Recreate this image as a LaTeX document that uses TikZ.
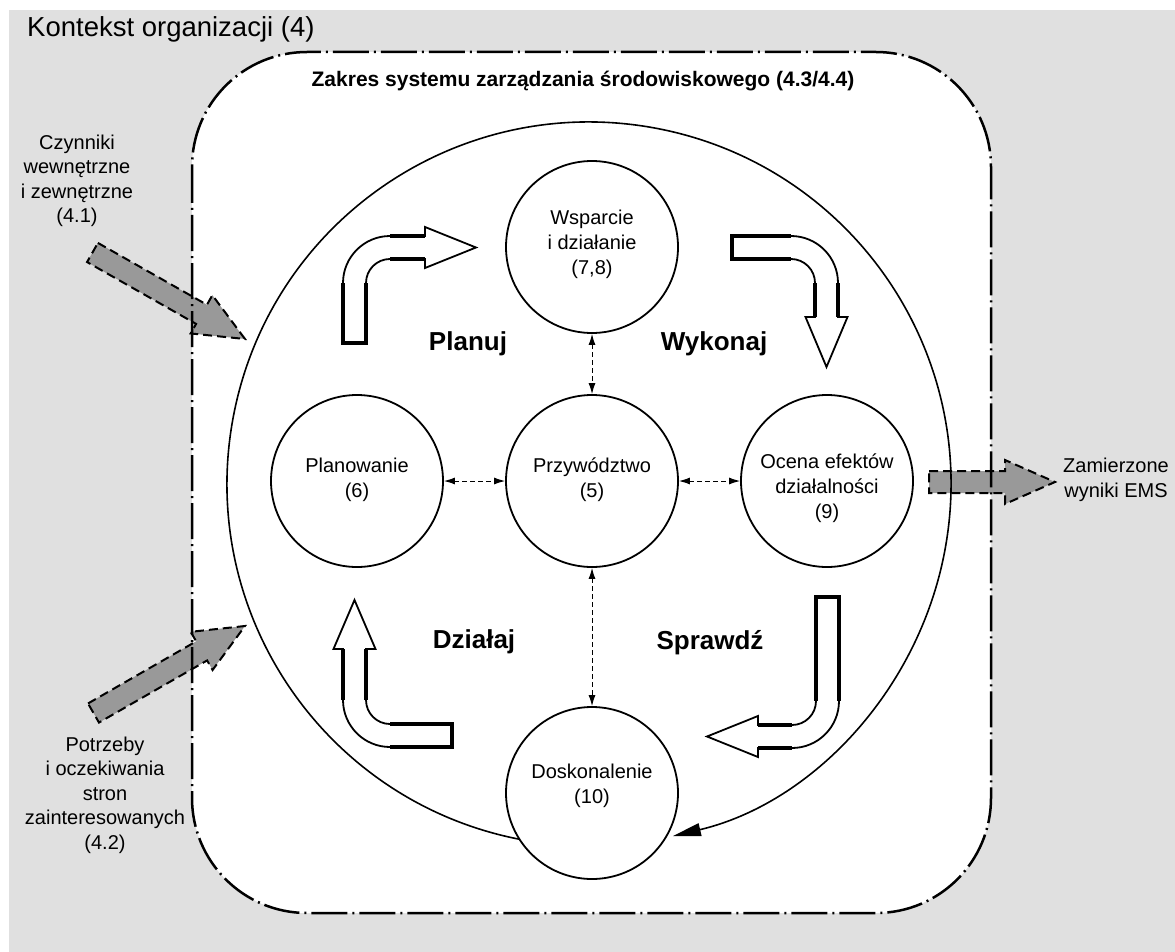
\documentclass[tikz,border=0pt]{standalone}
\usepackage{fontspec}
\setmainfont{Liberation Sans}
\usetikzlibrary{arrows.meta,calc}
\definecolor{bggray}{RGB}{224,224,224}
\definecolor{arrgray}{RGB}{153,153,153}
\newcommand\blockarr[2]{%
  \coordinate (#1h) at ($(#2)!50pt!(#1)$);
  \filldraw[grayarr] ($(#1)!11pt!90:(#2)$) -- ($(#1h)!11pt!90:(#2)$) -- ($(#1h)!22pt!90:(#2)$) -- (#2) -- ($(#1h)!22pt!-90:(#2)$) -- ($(#1h)!11pt!-90:(#2)$) -- ($(#1)!11pt!-90:(#2)$) -- cycle;}
\begin{document}
\begin{tikzpicture}[x=1pt,y=1pt,
  circ/.style={circle, draw, line width=1.8pt, fill=white, minimum size=172pt, inner sep=0pt},
  ctext/.style={align=center, inner sep=0pt, font=\fontsize{20}{25}\selectfont},
  dconn/.style={{Latex[length=11pt,width=7pt]}-{Latex[length=11pt,width=7pt]}, dash pattern=on 5pt off 3pt, line width=1pt},
  grayarr/.style={fill=arrgray, draw=black, line width=2pt, dash pattern=on 9pt off 5pt, line join=miter},
  barrow/.style={draw=black, fill=white, line width=1.8pt, line join=miter},
  thickseg/.style={draw=black, line width=3.4pt, line join=miter},
  scopeline/.style={draw=black, line width=2.5pt, dash pattern=on 36pt off 5pt on 2pt off 5pt, rounded corners=115pt},
  bigarc/.style={line width=1.6pt, -{Triangle[length=28pt,width=13pt]}},
  lbl/.style={align=center, font=\fontsize{20}{24.5}\selectfont, inner sep=0pt},
  phase/.style={font=\fontsize{26}{30}\selectfont\bfseries, inner sep=0pt, anchor=base}]
\useasboundingbox (0,0) rectangle (1175,-952);
% background
\fill[bggray] (9,-10) rectangle (1175,-952);
\node[anchor=base west, inner sep=0pt, font=\fontsize{27.5}{32}\selectfont] (title) at (27,-37) {Kontekst organizacji (4)};
% scope frame fill
\fill[white, rounded corners=115pt] (192,-52) rectangle (991,-913);
% gray input/output arrows
\coordinate (a1t) at (92.5,-252.5); \coordinate (a1) at (245,-339);
\coordinate (a2t) at (93.5,-713); \coordinate (a2) at (245,-626);
\coordinate (a3t) at (929,-482); \coordinate (a3) at (1055,-482);
\blockarr{a1t}{a1}
\blockarr{a2t}{a2}
\blockarr{a3t}{a3}
% scope frame outline
\draw[scopeline] (192,-52) rectangle (991,-913);
\node[anchor=base, inner sep=0pt, font=\fontsize{21}{25}\selectfont\bfseries] (scope) at (583,-87) {Zakres systemu zarządzania środowiskowego (4.3/4.4)};
% big cycle arc
\coordinate (bigc) at (589,-484);
\draw[bigarc] ($(bigc)+(259:362)$) arc[start angle=259, end angle=-76.6, radius=362];
% bent white arrows
\draw[barrow] (343,-343) -- (343,-283) arc[start angle=180,end angle=90,radius=47] -- (425,-236) -- (425,-227) -- (476,-247.5) -- (425,-268) -- (425,-259) -- (390,-259) arc[start angle=90,end angle=180,radius=24] -- (366,-343) -- cycle;
\draw[thickseg] (343,-283) -- (343,-343) -- (366,-343) -- (366,-283);
\draw[thickseg] (390,-236) -- (425,-236); \draw[thickseg] (390,-259) -- (425,-259);
\draw[barrow] (732,-236) -- (791,-236) arc[start angle=90,end angle=0,radius=47] -- (838,-317) -- (847.5,-317) -- (826.5,-367) -- (805.5,-317) -- (815,-317) -- (815,-283) arc[start angle=0,end angle=90,radius=24] -- (732,-259) -- cycle;
\draw[thickseg] (791,-236) -- (732,-236) -- (732,-259) -- (791,-259);
\draw[thickseg] (838,-283) -- (838,-317); \draw[thickseg] (815,-283) -- (815,-317);
\draw[barrow] (816,-597) -- (839,-597) -- (839,-701) arc[start angle=0,end angle=-90,radius=47] -- (758,-748) -- (758,-757) -- (707,-736.5) -- (758,-716) -- (758,-725) -- (792,-725) arc[start angle=-90,end angle=0,radius=24] -- cycle;
\draw[thickseg] (816,-701) -- (816,-597) -- (839,-597) -- (839,-701);
\draw[thickseg] (792,-725) -- (758,-725); \draw[thickseg] (792,-748) -- (758,-748);
\draw[barrow] (452,-724) -- (452,-747) -- (390,-747) arc[start angle=-90,end angle=-180,radius=47] -- (343,-649) -- (333.5,-649) -- (354.5,-600) -- (375.5,-649) -- (366,-649) -- (366,-700) arc[start angle=180,end angle=270,radius=24] -- cycle;
\draw[thickseg] (390,-724) -- (452,-724) -- (452,-747) -- (390,-747);
\draw[thickseg] (343,-700) -- (343,-649); \draw[thickseg] (366,-700) -- (366,-649);
% circles
\node[circ] (W) at (592,-247) {};
\node[circ] (P) at (592,-481) {};
\node[circ] (Pl) at (357,-481) {};
\node[circ] (O) at (827,-481) {};
\node[circ] (D) at (592,-793) {};
\node[ctext] (Wt) at (592,-244) {Wsparcie\\i działanie\\(7,8)};
\node[ctext] (Pt) at (592,-480) {Przywództwo\\(5)};
\node[ctext] (Plt) at (357,-480) {Planowanie\\(6)};
\node[ctext] (Ot) at (827,-488) {Ocena efektów\\działalności\\(9)};
\node[ctext] (Dt) at (592,-786) {Doskonalenie\\(10)};
% dashed connectors
\draw[dconn] (W) -- (P);
\draw[dconn] (Pl) -- (P);
\draw[dconn] (P) -- (O);
\draw[dconn] (P) -- (D);
% phase labels
\node[phase] (plan) at (468,-350) {Planuj};
\node[phase] (do) at (714,-350) {Wykonaj};
\node[phase] (act) at (474,-648) {Działaj};
\node[phase] (check) at (710,-649) {Sprawdź};
% outside labels
\node[lbl] (in1) at (77,-181) {Czynniki\\wewnętrzne\\i zewnętrzne\\(4.1)};
\node[lbl] (in2) at (105,-795) {Potrzeby\\i oczekiwania\\stron\\zainteresowanych\\(4.2)};
\node[lbl] (out) at (1116,-480) {Zamierzone\\wyniki EMS};
\end{tikzpicture}
\end{document}
